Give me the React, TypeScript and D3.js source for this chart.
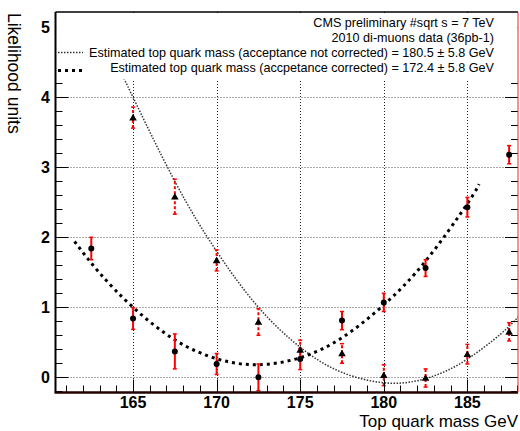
import React from "react";
import * as d3 from "d3";

// ---- data ----
const correctedMass = [162.5, 165, 167.5, 170, 172.5, 175, 177.5, 180, 182.5, 185, 187.5];
const correctedValues = [1.84, 0.84, 0.37, 0.19, 0.0, 0.26, 0.81, 1.07, 1.56, 2.43, 3.18];
const correctedErrors = [0.16, 0.155, 0.25, 0.15, 0.19, 0.15, 0.13, 0.13, 0.12, 0.14, 0.13];

const uncorrectedMass = [165, 167.5, 170, 172.5, 175, 177.5, 180, 182.5, 185, 187.5];
const uncorrectedValues = [3.71, 2.58, 1.67, 0.79, 0.39, 0.34, 0.03, -0.01, 0.33, 0.65];
const uncorrectedErrors = [0.15, 0.25, 0.15, 0.19, 0.14, 0.14, 0.15, 0.13, 0.14, 0.13];

// fit curves
const uncorrFitX = [164.45, 165, 167.5, 170, 172.5, 175, 177.5, 180.5, 183, 185, 187, 188.03];
const uncorrFitY = [4.27, 4.0, 2.8, 1.8, 1.0, 0.43, 0.07, -0.085, 0.02, 0.26, 0.62, 0.86];
const corrFitX = [161.5, 163, 165, 167.5, 170, 172.4, 175, 177.5, 180, 182.5, 185, 185.7];
const corrFitY = [1.94, 1.49, 1.0, 0.535, 0.265, 0.18, 0.28, 0.565, 1.035, 1.66, 2.48, 2.76];

const xMajorTicks = [165, 170, 175, 180, 185];
const yMajorTicks = [0, 1, 2, 3, 4, 5];

const legendLines = [
  "CMS preliminary #sqrt s = 7 TeV",
  "2010 di-muons data (36pb-1)",
  "Estimated top quark mass (acceptance not corrected) = 180.5 \u00b1 5.8 GeV",
  "Estimated top quark mass (accpetance corrected) = 172.4 \u00b1 5.8 GeV",
];
const xTitle = "Top quark mass GeV";
const yTitle = "Likelihood units";

const W = 520;
const H = 431;
const L = 55.5;
const R = 518;
const T = 12;
const B = 392.5;

export default function App() {
  const x = d3.scaleLinear().domain([160.36, 188.03]).range([L, R]);
  const y = d3.scaleLinear().domain([0, 5]).range([377.3, 27.3]);

  const xMinor = d3.range(161, 189, 1).filter((v) => v <= 188.03);
  const yMinor = d3.range(-2, 27, 1).map((v) => v / 5).filter((v) => y(v) < B && y(v) > T);

  const line = d3
    .line<[number, number]>()
    .x((d) => x(d[0]))
    .y((d) => y(d[1]))
    .curve(d3.curveNatural);

  const uncorrPath = line(uncorrFitX.map((v, i) => [v, uncorrFitY[i]] as [number, number])) || "";
  const corrPath = line(corrFitX.map((v, i) => [v, corrFitY[i]] as [number, number])) || "";

  const font = "'Liberation Sans', Arial, Helvetica, sans-serif";

  const tri = (cx: number, cy: number) => {
    const s = 3.8;
    return `M${cx},${cy - s}L${cx + s},${cy + s * 0.75}L${cx - s},${cy + s * 0.75}Z`;
  };

  return (
    <svg
      width={W}
      height={H}
      style={{ position: "absolute", left: 0, top: 0, background: "#fff" }}
      fontFamily={font}
    >
      <defs>
        <clipPath id="plotclip">
          <rect x={L} y={T} width={R - L} height={B - T} />
        </clipPath>
      </defs>
      <rect x={0} y={0} width={W} height={H} fill="#fff" />

      {/* grid */}
      {xMajorTicks.map((v) => (
        <line
          key={"gx" + v}
          x1={Math.round(x(v)) + 0.5}
          x2={Math.round(x(v)) + 0.5}
          y1={T}
          y2={B}
          stroke="#222"
          strokeWidth={1}
          strokeDasharray="1,2"
        />
      ))}
      {yMajorTicks.map((v) => (
        <line
          key={"gy" + v}
          x1={L}
          x2={R}
          y1={Math.round(y(v)) + 0.5}
          y2={Math.round(y(v)) + 0.5}
          stroke="#555"
          strokeWidth={1}
          strokeDasharray="1,2"
        />
      ))}

      {/* fit curves */}
      <g clipPath="url(#plotclip)">
        <path d={uncorrPath} fill="none" stroke="#333" strokeWidth={1.5} strokeDasharray="1.5,1.5" />
        <path d={corrPath} fill="none" stroke="#000" strokeWidth={3} strokeDasharray="3,4" />
      </g>

      {/* error bars: corrected (solid) */}
      {correctedMass.map((m, i) => {
        const cx = x(m);
        const y1 = y(correctedValues[i] - correctedErrors[i]);
        const y2 = y(correctedValues[i] + correctedErrors[i]);
        return (
          <g key={"ec" + i} stroke="#ff0000" strokeWidth={2}>
            <line x1={cx} x2={cx} y1={y1} y2={y2} />
            <line x1={cx - 2} x2={cx + 2} y1={y1} y2={y1} strokeWidth={1.5} />
            <line x1={cx - 2} x2={cx + 2} y1={y2} y2={y2} strokeWidth={1.5} />
          </g>
        );
      })}
      {/* error bars: uncorrected (dashed) */}
      {uncorrectedMass.map((m, i) => {
        const cx = x(m);
        const y1 = y(uncorrectedValues[i] - uncorrectedErrors[i]);
        const y2 = y(uncorrectedValues[i] + uncorrectedErrors[i]);
        return (
          <g key={"eu" + i} stroke="#ff0000" strokeWidth={2}>
            <line x1={cx} x2={cx} y1={y1} y2={y2} strokeDasharray="3,2" />
            <line x1={cx - 2} x2={cx + 2} y1={y1} y2={y1} strokeWidth={1.5} />
            <line x1={cx - 2} x2={cx + 2} y1={y2} y2={y2} strokeWidth={1.5} />
          </g>
        );
      })}

      {/* markers */}
      {correctedMass.map((m, i) => (
        <circle key={"mc" + i} cx={x(m)} cy={y(correctedValues[i])} r={3} fill="#000" />
      ))}
      {uncorrectedMass.map((m, i) => (
        <path key={"mu" + i} d={tri(x(m), y(uncorrectedValues[i]))} fill="#000" />
      ))}

      {/* legend box (opaque) */}
      <rect x={L + 1} y={T + 1} width={R - L - 2} height={66} fill="#fff" />
      {legendLines.map((t, i) => (
        <text
          key={"lg" + i}
          x={494}
          y={27 + i * 15}
          textAnchor="end"
          fontSize={12.6}
          fill="#000"
        >
          {t}
        </text>
      ))}
      <line x1={58} x2={83} y1={52.5} y2={52.5} stroke="#333" strokeWidth={1.5} strokeDasharray="1.5,1.5" />
      <line x1={58} x2={83} y1={70.5} y2={70.5} stroke="#000" strokeWidth={3} strokeDasharray="3,4" />

      {/* ticks bottom */}
      {xMinor.map((v) => {
        const major = xMajorTicks.includes(v);
        const px = Math.round(x(v)) + 0.5;
        return (
          <g key={"tx" + v} stroke="#000" strokeWidth={1}>
            <line x1={px} x2={px} y1={B} y2={B - (major ? 13 : 7)} />
          </g>
        );
      })}
      {/* ticks left & right */}
      {yMinor.map((v) => {
        const major = Math.abs(v - Math.round(v)) < 1e-6;
        const py = Math.round(y(v)) + 0.5;
        if (py < T + 67) return null;
        return (
          <g key={"ty" + v} stroke="#000" strokeWidth={1}>
            <line x1={L} x2={L + (major ? 13 : 7)} y1={py} y2={py} />
            <line x1={R} x2={R - (major ? 13 : 7)} y1={py} y2={py} />
          </g>
        );
      })}

      {/* frame */}
      <line x1={L} x2={R} y1={T} y2={T} stroke="#000" strokeWidth={1.5} />
      <line x1={L} x2={L} y1={T} y2={B} stroke="#000" strokeWidth={2} />
      <line x1={L - 1} x2={R} y1={B} y2={B} stroke="#200" strokeWidth={2.5} />
      <line x1={R} x2={R} y1={T} y2={B} stroke="#ff2020" strokeWidth={1} />

      {/* tick labels */}
      {xMajorTicks.map((v) => (
        <text key={"lx" + v} x={x(v)} y={407.5} textAnchor="middle" fontSize={16} fontWeight="bold">
          {v}
        </text>
      ))}
      {yMajorTicks.map((v) => (
        <text key={"ly" + v} x={50} y={y(v) + 6} textAnchor="end" fontSize={16} fontWeight="bold">
          {v}
        </text>
      ))}

      {/* axis titles */}
      <text x={518} y={427} textAnchor="end" fontSize={17}>
        {xTitle}
      </text>
      <text transform="translate(8,13) rotate(90)" textAnchor="start" fontSize={17.5}>
        {yTitle}
      </text>
    </svg>
  );
}
